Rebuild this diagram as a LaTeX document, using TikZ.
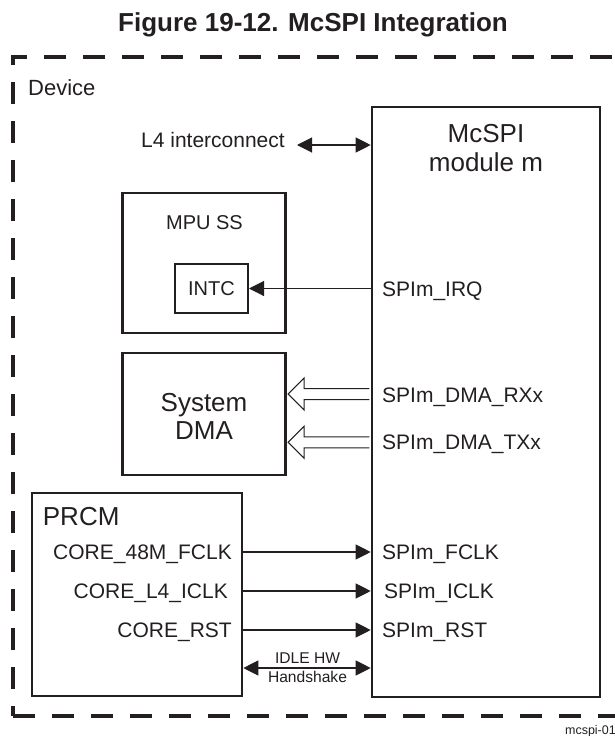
\documentclass[tikz,border=0pt]{standalone}
\usepackage{fontspec}
\setmainfont{Liberation Sans}
\usetikzlibrary{arrows.meta,calc}
\definecolor{ink}{HTML}{231F20}
\begin{document}
\begin{tikzpicture}[x=1pt,y=-1pt, every node/.style={text=ink},
  box/.style={draw=ink, line width=2.6pt, inner sep=0pt, rectangle},
  lbl/.style={inner sep=0pt, font=\fontsize{21}{25}\selectfont},
  big/.style={inner sep=0pt, font=\fontsize{26}{30}\selectfont},
  sig/.style={draw=ink, line width=1.1pt, -{Triangle[length=15pt,width=15pt]}},
  sigboth/.style={draw=ink, line width=1.1pt, {Triangle[length=15pt,width=15pt]}-{Triangle[length=15pt,width=15pt]}},
  frame/.style={draw=ink, line width=3.3pt, dash pattern=on 22pt off 17pt},
  hollow/.style={draw=ink, line width=1pt, fill=white},
]
\useasboundingbox (0,0) rectangle (615,736);

% title
\node[inner sep=0pt, font=\bfseries\fontsize{26}{30}\selectfont, anchor=base] (title) at (313,31.3) {Figure 19-12. McSPI Integration};

% device frame
\coordinate (tl) at (13,57);
\coordinate (bl) at (13,716);
\coordinate (tr) at (640,57);
\coordinate (br) at (640,716);
\draw[frame, dash phase=12pt] (bl) -- (tl) -- (tr);
\draw[frame] (bl) -- (br);
\node[inner sep=0pt, font=\fontsize{22}{26}\selectfont, anchor=base west] (dev) at (28,95) {Device};

% McSPI module
\node[box, minimum width=228pt, minimum height=590pt] (mcspi) at (486,402) {};
\node[big, anchor=base] (mc1) at (486,142.3) {McSPI};
\node[big, anchor=base] (mc2) at (486,171) {module m};

% L4 interconnect
\node[lbl, anchor=base east] (l4) at (285,147.5) {L4 interconnect};
\coordinate (l4e) at (297,145);
\draw[sigboth] (l4e) -- (mcspi.west |- l4e);

% MPU SS
\node[box, minimum width=163pt, minimum height=140pt] (mpu) at (204,263) {};
\node[inner sep=0pt, font=\fontsize{20}{24}\selectfont, anchor=base] (mpul) at (204.5,229) {MPU SS};
\node[draw=ink, line width=2pt, minimum width=73pt, minimum height=49pt, inner sep=0pt, font=\fontsize{20}{24}\selectfont] (intc) at (211.5,288.5) {INTC};
\node[lbl, anchor=base west] (irq) at (382,296) {SPIm\_IRQ};
\draw[sig] (mcspi.west |- intc) -- (intc.east);

% System DMA
\node[box, minimum width=163pt, minimum height=122pt] (dma) at (204,414) {};
\node[big, anchor=base] (dma1) at (204,411) {System};
\node[big, anchor=base] (dma2) at (204,439.3) {DMA};
\node[lbl, anchor=base west] (rx) at (382,402.5) {SPIm\_DMA\_RXx};
\node[lbl, anchor=base west] (tx) at (382,449) {SPIm\_DMA\_TXx};
\coordinate (rxc) at (0,394);
\coordinate (txc) at (0,442.3);
\foreach \c in {rxc,txc}{
  \draw[hollow] ($(mcspi.west |- \c)+(-1.3,-5.5)$) -- ($(dma.east |- \c)+(17.3,-5.5)$)
    -- ($(dma.east |- \c)+(17.3,-16)$) -- ($(dma.east |- \c)+(1.3,0)$)
    -- ($(dma.east |- \c)+(17.3,16)$) -- ($(dma.east |- \c)+(17.3,5.5)$)
    -- ($(mcspi.west |- \c)+(-1.3,5.5)$);
}

% PRCM
\node[box, minimum width=210pt, minimum height=203pt] (prcm) at (137,594.5) {};
\node[big, anchor=base west] (prcml) at (42.7,525.3) {PRCM};
\node[lbl, anchor=base east] (c1) at (232,559.5) {CORE\_48M\_FCLK};
\node[lbl, anchor=base east] (c2) at (228,598.5) {CORE\_L4\_ICLK};
\node[lbl, anchor=base east] (c3) at (232,637) {CORE\_RST};
\node[lbl, anchor=base west] (s1) at (382,559.5) {SPIm\_FCLK};
\node[lbl, anchor=base west] (s2) at (384,598.5) {SPIm\_ICLK};
\node[lbl, anchor=base west] (s3) at (382,637) {SPIm\_RST};
\coordinate (y1) at (0,552);
\coordinate (y2) at (0,591);
\coordinate (y3) at (0,630);
\coordinate (y4) at (0,668);
\draw[sig] (prcm.east |- y1) -- (mcspi.west |- y1);
\draw[sig] (prcm.east |- y2) -- (mcspi.west |- y2);
\draw[sig] (prcm.east |- y3) -- (mcspi.west |- y3);
\draw[sigboth] (prcm.east |- y4) -- (mcspi.west |- y4);
\node[inner sep=0pt, font=\fontsize{15.6}{18}\selectfont, anchor=base] (idle1) at (307.5,663.6) {IDLE HW};
\node[inner sep=0pt, font=\fontsize{15.6}{18}\selectfont, anchor=base] (idle2) at (307.5,682.3) {Handshake};

% figure id
\node[inner sep=0pt, font=\fontsize{12.5}{14}\selectfont, anchor=base east] (fid) at (616,734) {mcspi-01};
\end{tikzpicture}
\end{document}
